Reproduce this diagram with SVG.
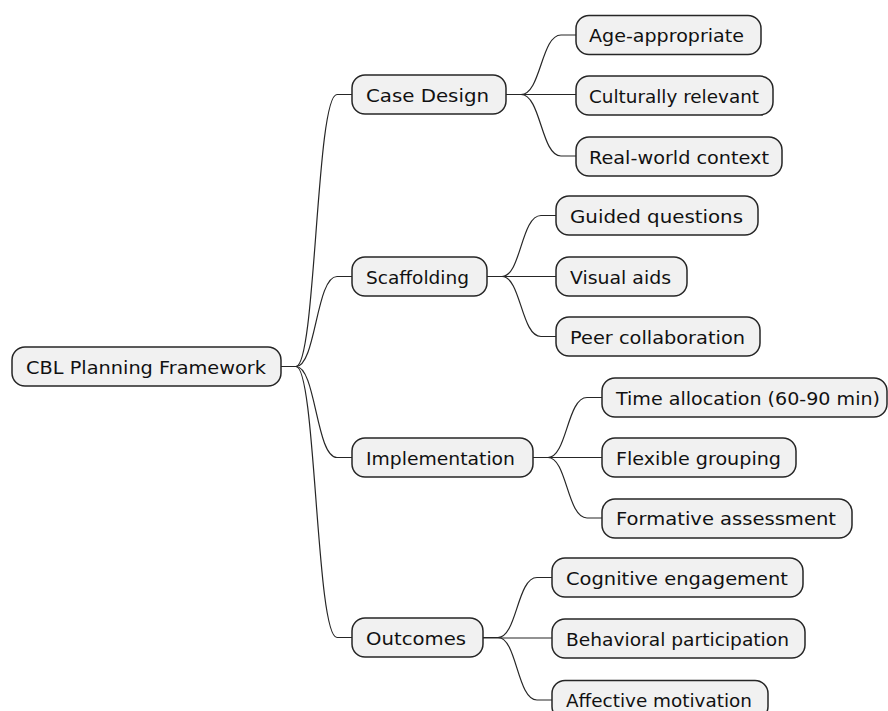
<svg xmlns="http://www.w3.org/2000/svg" width="888" height="711" viewBox="0 0 888 711">
<style>
.box{fill:#f1f1f1;stroke:#262626;stroke-width:1.5}
.t{font-family:"DejaVu Sans","Liberation Sans",sans-serif;font-size:17px;fill:#111}
.c{fill:none;stroke:#262626;stroke-width:1.2}
</style>
<rect width="888" height="711" fill="#ffffff"/>
<g id="connectors">
<path class="c" d="M281,366.5 H296 C316,366.5 316,94.5 337,94.5 H352"/>
<path class="c" d="M281,366.5 H296 C316,366.5 316,276.5 337,276.5 H352"/>
<path class="c" d="M281,366.5 H296 C316,366.5 316,457.5 337,457.5 H352"/>
<path class="c" d="M281,366.5 H296 C316,366.5 316,637.5 337,637.5 H352"/>
<path class="c" d="M506,94.5 H521 C541,94.5 541,35 561,35 H576"/>
<path class="c" d="M506,94.5 H576"/>
<path class="c" d="M506,94.5 H521 C541,94.5 541,156 561,156 H576"/>
<path class="c" d="M487,276.5 H502 C521,276.5 521,215.5 541,215.5 H556"/>
<path class="c" d="M487,276.5 H556"/>
<path class="c" d="M487,276.5 H502 C521,276.5 521,336.5 541,336.5 H556"/>
<path class="c" d="M533,457.5 H548 C567,457.5 567,397.5 587,397.5 H602"/>
<path class="c" d="M533,457.5 H602"/>
<path class="c" d="M533,457.5 H548 C567,457.5 567,518 587,518 H602"/>
<path class="c" d="M483,637.5 H498 C517,637.5 517,577.5 537,577.5 H552"/>
<path class="c" d="M483,638 H552"/>
<path class="c" d="M483,637.5 H498 C517,637.5 517,700 537,700 H552"/>
</g>
<g id="root"><rect class="box" x="12" y="347" width="269" height="39" rx="13"/><text class="t" x="26" y="373.5" textLength="240" lengthAdjust="spacingAndGlyphs">CBL Planning Framework</text></g>
<g id="case-design"><rect class="box" x="352" y="75" width="154" height="39" rx="13"/><text class="t" x="366" y="101.5" textLength="123" lengthAdjust="spacingAndGlyphs">Case Design</text></g>
<g id="scaffolding"><rect class="box" x="352" y="257" width="135" height="39" rx="13"/><text class="t" x="366" y="283.5" textLength="103" lengthAdjust="spacingAndGlyphs">Scaffolding</text></g>
<g id="implementation"><rect class="box" x="352" y="438" width="181" height="39" rx="13"/><text class="t" x="366" y="464.5" textLength="149" lengthAdjust="spacingAndGlyphs">Implementation</text></g>
<g id="outcomes"><rect class="box" x="352" y="618" width="131" height="39" rx="13"/><text class="t" x="366" y="644.5" textLength="100" lengthAdjust="spacingAndGlyphs">Outcomes</text></g>
<g id="age-appropriate"><rect class="box" x="576" y="15.5" width="185" height="39" rx="13"/><text class="t" x="589" y="42" textLength="155" lengthAdjust="spacingAndGlyphs">Age-appropriate</text></g>
<g id="culturally-relevant"><rect class="box" x="576" y="76" width="197" height="39" rx="13"/><text class="t" x="589" y="102.5" textLength="170" lengthAdjust="spacingAndGlyphs">Culturally relevant</text></g>
<g id="real-world-context"><rect class="box" x="576" y="137" width="206" height="39" rx="13"/><text class="t" x="589" y="163.5" textLength="180" lengthAdjust="spacingAndGlyphs">Real-world context</text></g>
<g id="guided-questions"><rect class="box" x="556" y="196" width="202" height="39" rx="13"/><text class="t" x="570" y="222.5" textLength="173" lengthAdjust="spacingAndGlyphs">Guided questions</text></g>
<g id="visual-aids"><rect class="box" x="556" y="257" width="131" height="39" rx="13"/><text class="t" x="570" y="283.5" textLength="101" lengthAdjust="spacingAndGlyphs">Visual aids</text></g>
<g id="peer-collaboration"><rect class="box" x="556" y="317" width="204" height="39" rx="13"/><text class="t" x="570" y="343.5" textLength="175" lengthAdjust="spacingAndGlyphs">Peer collaboration</text></g>
<g id="time-allocation"><rect class="box" x="602" y="378" width="285" height="39" rx="13"/><text class="t" x="616" y="404.5" textLength="264" lengthAdjust="spacingAndGlyphs">Time allocation (60-90 min)</text></g>
<g id="flexible-grouping"><rect class="box" x="602" y="438" width="194" height="39" rx="13"/><text class="t" x="616" y="464.5" textLength="165" lengthAdjust="spacingAndGlyphs">Flexible grouping</text></g>
<g id="formative-assessment"><rect class="box" x="602" y="499" width="250" height="39" rx="13"/><text class="t" x="616" y="525" textLength="220" lengthAdjust="spacingAndGlyphs">Formative assessment</text></g>
<g id="cognitive-engagement"><rect class="box" x="552" y="558" width="251" height="39" rx="13"/><text class="t" x="566" y="584.5" textLength="222" lengthAdjust="spacingAndGlyphs">Cognitive engagement</text></g>
<g id="behavioral-participation"><rect class="box" x="552" y="619" width="253" height="39" rx="13"/><text class="t" x="566" y="645.5" textLength="223" lengthAdjust="spacingAndGlyphs">Behavioral participation</text></g>
<g id="affective-motivation"><rect class="box" x="552" y="680.5" width="216" height="39" rx="13"/><text class="t" x="566" y="707" textLength="186" lengthAdjust="spacingAndGlyphs">Affective motivation</text></g>
</svg>
